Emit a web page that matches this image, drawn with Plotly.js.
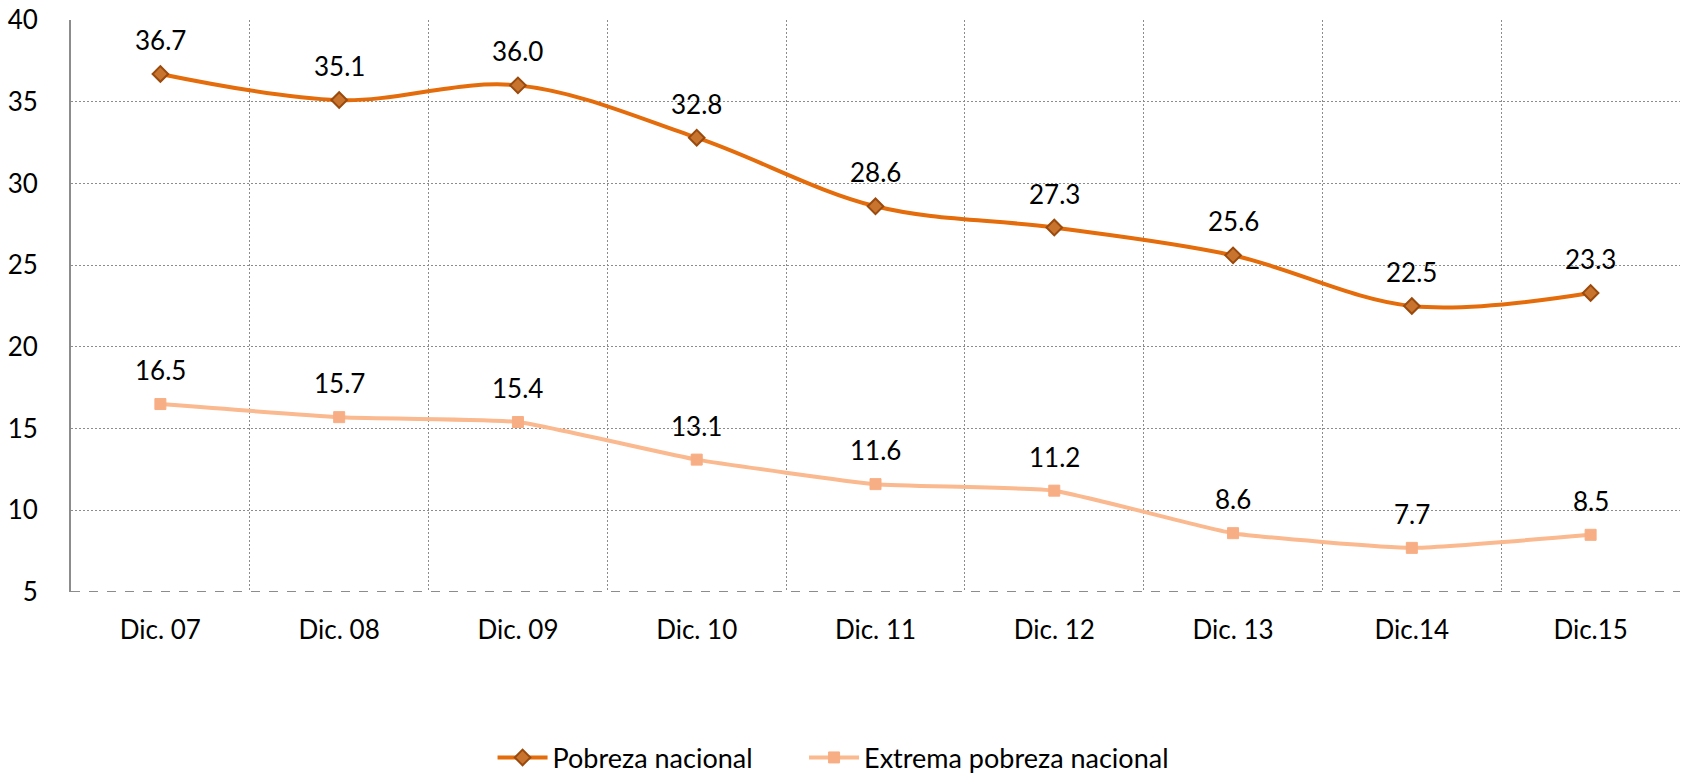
<!DOCTYPE html>
<html>
<head>
<meta charset="utf-8">
<script src="https://cdn.plot.ly/plotly-3.0.1.min.js"></script>
<style>html,body{margin:0;padding:0;background:#fff;}#chart{width:1685px;height:773px;}</style>
</head>
<body>
<div id="chart"></div>
<script>
const categories = ["Dic. 07","Dic. 08","Dic. 09","Dic. 10","Dic. 11","Dic. 12","Dic. 13","Dic.14","Dic.15"];
const pobreza = [36.7, 35.1, 36.0, 32.8, 28.6, 27.3, 25.6, 22.5, 23.3];
const extrema = [16.5, 15.7, 15.4, 13.1, 11.6, 11.2, 8.6, 7.7, 8.5];
const seriesNames = ["Pobreza nacional", "Extrema pobreza nacional"];
const yTicks = [5, 10, 15, 20, 25, 30, 35, 40];

const FONT = "Lato, 'Open Sans', sans-serif";

const traces = [
  {
    x: categories, y: pobreza, name: seriesNames[0], type: "scatter", mode: "lines+markers",
    legend: "legend",
    line: {color: "#E46C0A", width: 4, shape: "spline", smoothing: 1},
    marker: {symbol: "diamond", size: 12, color: "#C8742E", line: {color: "#9A4A0D", width: 2}}
  },
  {
    x: categories, y: extrema, name: seriesNames[1], type: "scatter", mode: "lines+markers",
    legend: "legend2",
    line: {color: "#FAB98E", width: 4, shape: "spline", smoothing: 0.4},
    marker: {symbol: "square", size: 11, color: "#F8AE84", line: {color: "#F8AE84", width: 1}}
  }
];

const annotations = [];
[pobreza, extrema].forEach(series => {
  series.forEach((v, i) => {
    annotations.push({
      x: categories[i], y: v, xref: "x", yref: "y", text: v.toFixed(1),
      showarrow: false, yshift: 34, yanchor: "middle",
      font: {family: FONT, size: 26, color: "#000"}
    });
  });
});

const legendBase = {
  orientation: "h", xanchor: "left", y: -0.29, yanchor: "middle",
  font: {family: FONT, size: 27, color: "#000"},
  itemwidth: 50, bgcolor: "rgba(0,0,0,0)"
};

const layout = {
  width: 1685, height: 773,
  margin: {l: 71, r: 5, t: 20, b: 181, autoexpand: false},
  paper_bgcolor: "#fff", plot_bgcolor: "#fff",
  font: {family: FONT, size: 26, color: "#000"},
  showlegend: true,
  legend: Object.assign({}, legendBase, {x: 0.262}),
  legend2: Object.assign({}, legendBase, {x: 0.4556}),
  xaxis: {
    type: "category", tickson: "boundaries", showgrid: true, automargin: false,
    gridcolor: "#8c8c8c", gridwidth: 1, griddash: "2px,2px",
    ticks: "", showline: false, zeroline: false,
    ticklabelstandoff: 20, tickfont: {family: FONT, size: 26, color: "#000"},
    range: [-0.5, categories.length - 0.5], fixedrange: true
  },
  yaxis: {
    range: [yTicks[0], yTicks[yTicks.length - 1]], tickvals: yTicks, automargin: false,
    showgrid: true, gridcolor: "#8c8c8c", gridwidth: 1, griddash: "2px,2px",
    showline: true, linecolor: "#8c8c8c", linewidth: 2,
    ticks: "", zeroline: false, ticklabelstandoff: 26,
    tickfont: {family: FONT, size: 26, color: "#000"}
  },
  shapes: [{
    type: "line", xref: "paper", yref: "y", x0: 0, x1: 1, y0: yTicks[0], y1: yTicks[0],
    line: {color: "#8c8c8c", width: 2, dash: "dash"}
  }],
  annotations: annotations
};

Plotly.newPlot("chart", traces, layout, {displayModeBar: false, staticPlot: true});
</script>
</body>
</html>
